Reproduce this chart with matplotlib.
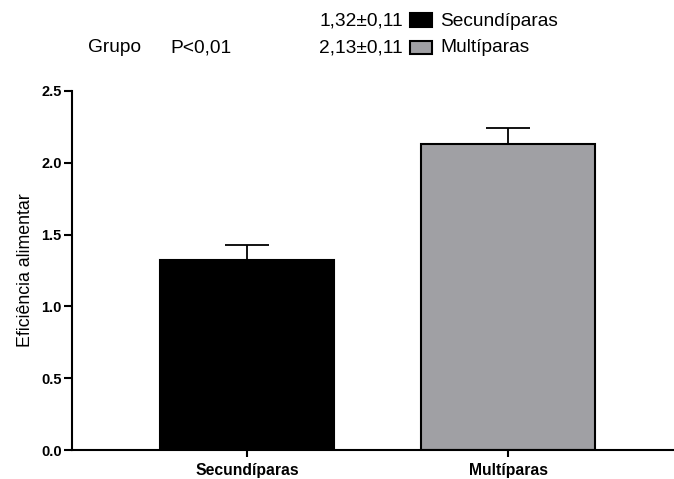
import matplotlib
matplotlib.use("Agg")
import matplotlib.pyplot as plt
from matplotlib.patches import Rectangle
import numpy as np

# dados do gráfico
groups = ["Secundíparas", "Multíparas"]
means = [1.32, 2.13]
sems = [0.11, 0.11]
bar_colors = ["black", "#a0a0a4"]
stat_labels = ["1,32±0,11", "2,13±0,11"]
y_ticks = [0.0, 0.5, 1.0, 1.5, 2.0, 2.5]

plt.rcParams["font.family"] = ["Liberation Sans", "DejaVu Sans"]

W, H = 674, 479
fig = plt.figure(figsize=(W / 100, H / 100), dpi=100)
ax = fig.add_axes([72 / W, 1 - 450 / H, (W - 72) / W, (450 - 91) / H])

x = np.arange(len(groups))
bars = ax.bar(x, means, width=0.668, color=bar_colors, edgecolor="black",
              linewidth=1.5, zorder=2)
ax.errorbar(x, means, yerr=[np.zeros(len(sems)), sems], fmt="none",
            ecolor="black", elinewidth=1.3, capsize=15.5, capthick=1.3, zorder=1)

ax.set_xlim(-0.6705, 1.636)
ax.set_ylim(0, 2.5)
ax.set_yticks(y_ticks)
ax.set_yticklabels([f"{t:.1f}" for t in y_ticks], fontweight="bold", fontsize=10.5)
ax.set_xticks(x)
ax.set_xticklabels(groups, fontweight="bold", fontsize=11.3)
ax.set_ylabel("Eficiência alimentar", fontsize=12.8, labelpad=5)

for side in ["top", "right"]:
    ax.spines[side].set_visible(False)
for side in ["left", "bottom"]:
    ax.spines[side].set_linewidth(1.5)
ax.tick_params(axis="y", length=6, width=1.5, pad=1.5)
ax.tick_params(axis="x", length=5, width=1.5, pad=4)

# cabeçalho: grupo / P e legenda com médias ± EP
fs_top = 13.8
fig.text(88 / W, 1 - 48 / H, "Grupo", fontsize=fs_top, va="center", ha="left")
fig.text(170 / W, 1 - 48 / H, "P<0,01", fontsize=fs_top, va="center", ha="left")
row_y = [21, 48]
for lbl, grp, col, yy in zip(stat_labels, groups, bar_colors, row_y):
    fig.text(403 / W, 1 - yy / H, lbl, fontsize=fs_top, va="center", ha="right")
    fig.patches.append(Rectangle((410 / W, 1 - (yy + 5.5) / H), 22 / W, 13 / H,
                                 transform=fig.transFigure, facecolor=col,
                                 edgecolor="black", linewidth=1.5))
    fig.text(440 / W, 1 - yy / H, grp, fontsize=fs_top, va="center", ha="left")

fig.savefig("out.png", dpi=100)
